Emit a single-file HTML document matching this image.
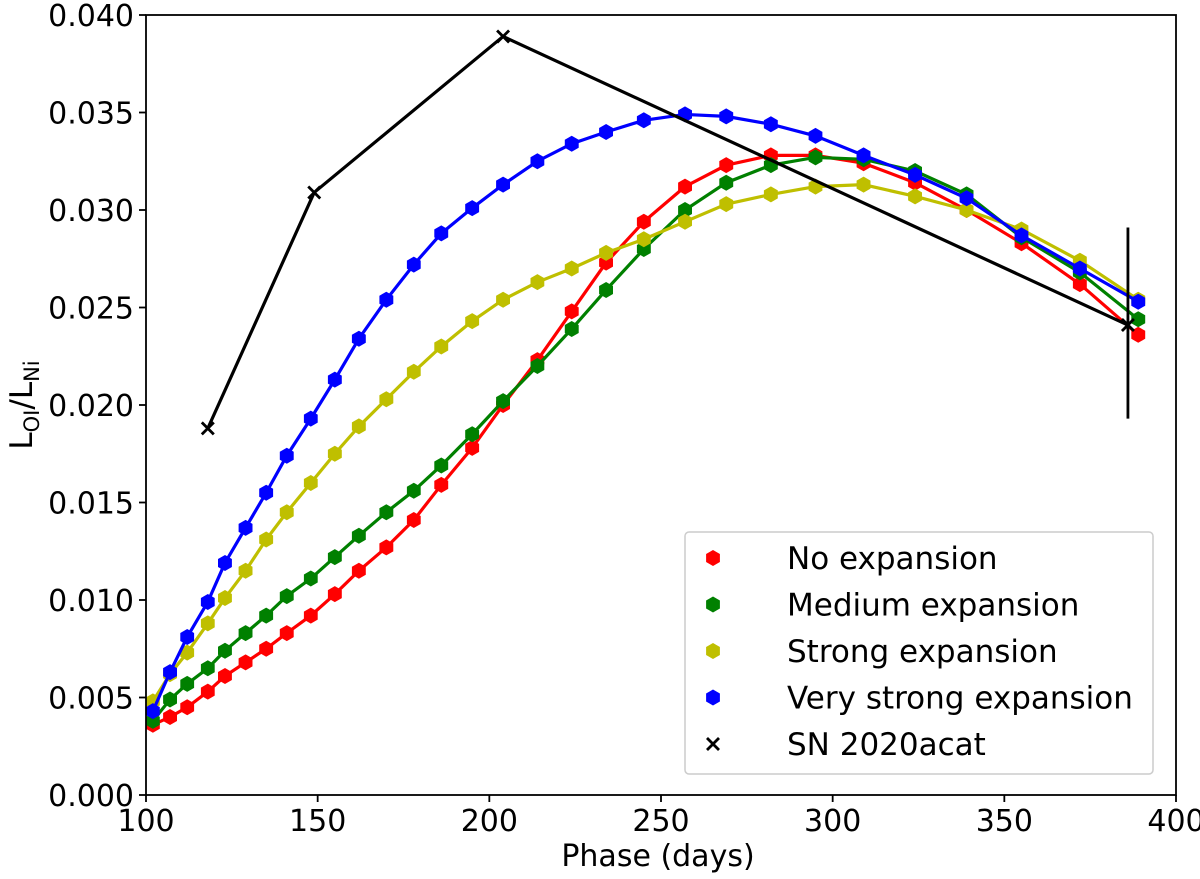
<!DOCTYPE html>
<html><head><meta charset="utf-8"><style>
html,body{margin:0;padding:0;background:#fff}
svg{display:block;font-family:"DejaVu Sans","Liberation Sans",sans-serif}
</style></head><body>
<svg id="chart" width="1200" height="879" viewBox="0 0 1200 879" xmlns="http://www.w3.org/2000/svg">
<g id="plot"></g>
<rect x="146" y="15" width="1030" height="780" fill="none" stroke="#000" stroke-width="1.8"/>
<g id="axes"></g>
<text x="658" y="866" font-size="30" text-anchor="middle">Phase (days)</text>
<text transform="translate(32,405) rotate(-90)" font-size="31" text-anchor="middle">L<tspan font-size="21" dy="7">OI</tspan><tspan dy="-7">/L</tspan><tspan font-size="21" dy="7">Ni</tspan></text>
<g>
<rect x="685" y="532" width="468" height="242" rx="4" fill="#fff" stroke="#ccc" stroke-width="1.5"/>
<g id="legend-items"></g>
</g>
</svg>
<script>
const phases=[102,107,112,118,123,129,135,141,148,155,162,170,178,186,195,204,214,224,234,245,257,269,282,295,309,324,339,355,372,389];
const noExp=[.0036,.0040,.0045,.0053,.0061,.0068,.0075,.0083,.0092,.0103,.0115,.0127,.0141,.0159,.0178,.0200,.0223,.0248,.0273,.0294,.0312,.0323,.0328,.0328,.0324,.0314,.0300,.0283,.0262,.0236];
const medExp=[.0038,.0049,.0057,.0065,.0074,.0083,.0092,.0102,.0111,.0122,.0133,.0145,.0156,.0169,.0185,.0202,.0220,.0239,.0259,.0280,.0300,.0314,.0323,.0327,.0326,.0320,.0308,.0286,.0268,.0244];
const strongExp=[.0048,.0062,.0073,.0088,.0101,.0115,.0131,.0145,.0160,.0175,.0189,.0203,.0217,.0230,.0243,.0254,.0263,.0270,.0278,.0285,.0294,.0303,.0308,.0312,.0313,.0307,.0300,.0290,.0274,.0254];
const vStrongExp=[.0043,.0063,.0081,.0099,.0119,.0137,.0155,.0174,.0193,.0213,.0234,.0254,.0272,.0288,.0301,.0313,.0325,.0334,.0340,.0346,.0349,.0348,.0344,.0338,.0328,.0318,.0306,.0287,.0270,.0253];
const snPhases=[118,149,204,386];
const snValues=[.0188,.0309,.0389,.0241];
const snErrLow=[0,0,0,.0193];
const snErrHigh=[0,0,0,.0291];
const xTicks=[100,150,200,250,300,350,400];
const yTicks=[0,.005,.010,.015,.020,.025,.030,.035,.040];
const legendLabels=["No expansion","Medium expansion","Strong expansion","Very strong expansion","SN 2020acat"];

const X=v=>146+(v-100)*1030/300;
const Y=v=>795-v*780/0.04;
const NS="http://www.w3.org/2000/svg";
function mk(tag,attrs,parent){const e=document.createElementNS(NS,tag);for(const k in attrs)e.setAttribute(k,attrs[k]);parent.appendChild(e);return e;}
function hex(cx,cy,r){let p=[];for(let i=0;i<6;i++){const a=Math.PI/2+i*Math.PI/3;p.push((cx+r*Math.cos(a)).toFixed(1)+","+(cy+r*Math.sin(a)).toFixed(1));}return p.join(" ");}
const plot=document.getElementById('plot'),axes=document.getElementById('axes');

xTicks.forEach(t=>{
 const l=mk('line',{x1:X(t),x2:X(t),y1:795,y2:802,stroke:'#000','stroke-width':1.8},axes);
 
 
 const tx=mk('text',{x:X(t),y:831,'font-size':30,'text-anchor':'middle'},axes);tx.textContent=t;
 
 
});
yTicks.forEach(t=>{
 const l=mk('line',{x1:139,x2:146,y1:Y(t),y2:Y(t),stroke:'#000','stroke-width':1.8},axes);
 
 
 const tx=mk('text',{x:134,y:Y(t)+11,'font-size':30,'text-anchor':'end'},axes);tx.textContent=t.toFixed(3);
 
 
});

const series=[[noExp,'#ff0000','no-expansion'],[medExp,'#008000','medium-expansion'],[strongExp,'#bfbf00','strong-expansion'],[vStrongExp,'#0000ff','very-strong-expansion']];
series.forEach(([vals,col,name])=>{
 const g=mk('g',{},plot);
 
 
 const pl=mk('polyline',{points:phases.map((p,i)=>X(p)+","+Y(vals[i])).join(" "),fill:'none',stroke:col,'stroke-width':3.2},g);
 
 
 phases.forEach((p,i)=>{
  const m=mk('polygon',{points:hex(X(p),Y(vals[i]),8),fill:col},g);
  
  
 });
});
const sg=mk('g',{},plot);


const spl=mk('polyline',{points:snPhases.map((p,i)=>X(p)+","+Y(snValues[i])).join(" "),fill:'none',stroke:'#000','stroke-width':3.2},sg);


snPhases.forEach((p,i)=>{
 const x=X(p),y=Y(snValues[i]);
 if(snErrHigh[i]>0){const eb=mk('line',{x1:x,x2:x,y1:Y(snErrLow[i]),y2:Y(snErrHigh[i]),stroke:'#000','stroke-width':2.8},sg);
  
  }
 const m=mk('path',{d:`M${x-6},${y-6}L${x+6},${y+6}M${x-6},${y+6}L${x+6},${y-6}`,stroke:'#000','stroke-width':2.8},sg);
 
 
});

const li=document.getElementById('legend-items');
const lcols=['#ff0000','#008000','#bfbf00','#0000ff','#000'];
legendLabels.forEach((lab,i)=>{
 const y=558+i*46.5;
 const g=mk('g',{},li);
 
 
 if(i<4)mk('polygon',{points:hex(713,y,8),fill:lcols[i]},g);
 else mk('path',{d:`M707,${y-6}L719,${y+6}M707,${y+6}L719,${y-6}`,stroke:'#000','stroke-width':2.8},g);
 const t=mk('text',{x:787,y:y+11,'font-size':31},g);t.textContent=lab;
});
</script>
</body></html>
